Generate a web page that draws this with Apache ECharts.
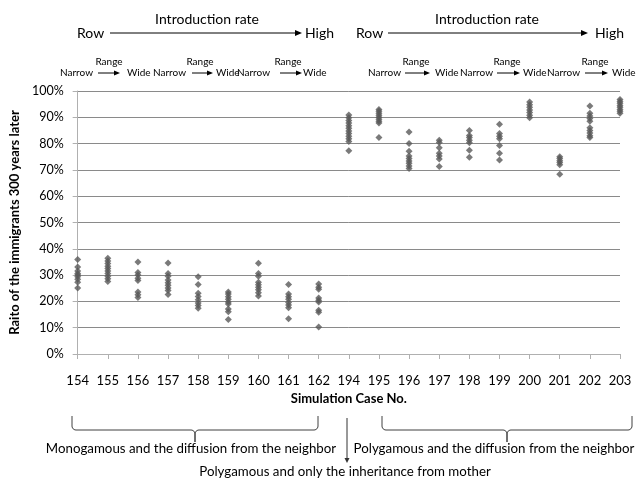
<!DOCTYPE html>
<html>
<head>
<meta charset="utf-8">
<script src="https://cdn.jsdelivr.net/npm/echarts@6/dist/echarts.min.js"></script>
<style>
  html, body { margin: 0; padding: 0; background: #fff; }
  #chart { width: 643px; height: 479px; }
</style>
</head>
<body>
<div id="chart"></div>
<script>
// Simulation case numbers along the x axis
const categories = ['154','155','156','157','158','159','160','161','162',
                    '194','195','196','197','198','199','200','201','202','203'];

// Ratio (%) of the immigrants after 300 years, one list of runs per case
// Monogamous, diffusion from the neighbor (cases 154-162)
const monoNeighborRatios = [
  [35.9, 33.1, 31.6, 30.6, 30.0, 29.4, 28.4, 27.3, 25.1],
  [36.4, 35.4, 34.4, 33.4, 32.5, 31.6, 30.6, 29.6, 28.6, 27.6],
  [35.0, 31.0, 30.0, 28.8, 27.9, 23.6, 22.5, 21.5],
  [34.6, 30.6, 29.6, 28.1, 27.1, 26.1, 25.1, 24.1, 22.6],
  [29.4, 26.4, 23.1, 21.9, 20.6, 19.4, 18.4, 17.4],
  [23.6, 22.8, 21.8, 20.8, 19.8, 19.0, 17.1, 16.1, 13.1],
  [34.5, 30.6, 29.6, 27.3, 26.3, 25.4, 24.4, 23.3, 22.1],
  [26.4, 22.8, 21.8, 20.8, 19.6, 18.6, 17.6, 13.4],
  [26.6, 25.4, 24.6, 21.3, 20.4, 19.8, 16.6, 15.9, 10.3]
];
// Polygamous, only the inheritance from mother (case 194)
const polyMotherRatios = [
  [90.9, 89.8, 88.8, 87.8, 86.8, 85.8, 84.8, 83.8, 82.8, 81.8, 80.8, 77.3]
];
// Polygamous, diffusion from the neighbor (cases 195-203)
const polyNeighborRatios = [
  [93.0, 92.3, 91.5, 90.8, 90.0, 89.3, 88.5, 87.8, 82.3],
  [84.4, 80.0, 77.1, 75.3, 74.3, 73.4, 72.5, 71.5, 70.5],
  [81.3, 80.4, 78.4, 76.3, 75.3, 74.1, 71.3],
  [85.0, 83.1, 82.3, 81.3, 80.3, 77.5, 74.8],
  [87.4, 83.8, 82.8, 81.8, 79.3, 76.3, 73.8],
  [95.8, 94.8, 93.8, 92.8, 91.8, 90.8, 89.8],
  [75.0, 74.3, 73.5, 72.8, 72.0, 68.3],
  [94.3, 91.5, 90.5, 89.5, 88.5, 86.0, 85.0, 84.0, 83.0, 82.3],
  [96.8, 96.0, 95.3, 94.5, 93.8, 93.0, 92.3, 91.5]
];

// Y axis ticks (percent)
const yMin = 0, yMax = 100, yStep = 10;

// Flatten to [categoryIndex, value] pairs
const allRuns = monoNeighborRatios.concat(polyMotherRatios, polyNeighborRatios);
const points = [];
allRuns.forEach((runs, i) => runs.forEach(v => points.push([i, v])));

const FONT = 'Lato, "Open Sans", sans-serif';
const INK = '#000';

// --- annotation helpers ---------------------------------------------------
function text(x, y, str, size, opts) {
  return {
    type: 'text', x: x, y: y, silent: true,
    style: { text: str, font: (opts && opts.bold ? 'bold ' : '') + size + 'px ' + FONT,
             fill: INK, align: (opts && opts.align) || 'center', verticalAlign: 'middle' }
  };
}
function hArrow(x1, x2, y, head, half) {
  return [
    { type: 'line', silent: true, shape: { x1: x1, y1: y, x2: x2 - head + 1, y2: y },
      style: { stroke: INK, lineWidth: 1 } },
    { type: 'polygon', silent: true,
      shape: { points: [[x2, y], [x2 - head, y - half], [x2 - head, y + half]] },
      style: { fill: INK } }
  ];
}
function vArrow(x, y1, y2, head, half) {
  return [
    { type: 'line', silent: true, shape: { x1: x, y1: y1, x2: x, y2: y2 - head + 1 },
      style: { stroke: '#333', lineWidth: 1 } },
    { type: 'polygon', silent: true,
      shape: { points: [[x, y2], [x - half, y2 - head], [x + half, y2 - head]] },
      style: { fill: '#333' } }
  ];
}
function arcPts(cx, cy, r, a0, a1) {
  const pts = [];
  for (let k = 0; k <= 6; k++) {
    const a = (a0 + (a1 - a0) * k / 6) * Math.PI / 180;
    pts.push([cx + r * Math.cos(a), cy + r * Math.sin(a)]);
  }
  return pts;
}
// Downward curly brace from x1 to x2
function brace(x1, x2, yTop, yLine, yTip, r) {
  const xm = (x1 + x2) / 2;
  let pts = [[x1, yTop]];
  pts = pts.concat(arcPts(x1 + r, yLine - r, r, 180, 90));
  pts = pts.concat(arcPts(xm - r, yLine + r, r, -90, 0));
  pts.push([xm, yTip]);
  pts = pts.concat(arcPts(xm + r, yLine + r, r, 180, 270));
  pts = pts.concat(arcPts(x2 - r, yLine - r, r, 90, 0));
  pts.push([x2, yTop]);
  return { type: 'polyline', silent: true, shape: { points: pts },
           style: { stroke: '#404040', lineWidth: 1, fill: null } };
}

// Top header: introduction rate and range arrows for each half
function header(rowX, arrowX1, arrowX2, highX, titleX, groups) {
  const els = [
    text(titleX, 19, 'Introduction rate', 14),
    text(rowX, 33, 'Row', 14, { align: 'left' }),
    text(highX, 33, 'High', 14, { align: 'left' })
  ].concat(hArrow(arrowX1, arrowX2, 33, 7, 3));
  groups.forEach(g => {
    els.push(text(g[0], 73, 'Narrow', 10, { align: 'left' }));
    els.push(text(g[1], 62, 'Range', 10));
    els.push(...hArrow(g[2], g[3], 73, 6, 2.5));
    els.push(text(g[4], 73, 'Wide', 10, { align: 'left' }));
  });
  return els;
}

const graphics = []
  .concat(header(77, 110, 302, 305, 207,
    [[60, 109, 98, 120, 127], [153, 200, 192, 213, 216], [237, 288, 280, 302, 303]]))
  .concat(header(356, 388, 588, 595, 487,
    [[368, 416, 405, 430, 435], [460, 507, 497, 520, 523], [547, 595, 585, 608, 612]]))
  .concat([
    brace(72, 318, 416, 430, 442, 4),
    brace(382, 632, 416, 430, 442, 4),
    text(191, 449, 'Monogamous and the diffusion from the neighbor', 13.3),
    text(494, 449, 'Polygamous and the diffusion from the neighbor', 13.3),
    text(345, 472, 'Polygamous and only the inheritance from mother', 13.3)
  ])
  .concat(vArrow(347, 418, 463, 5, 2.5));

const chart = echarts.init(document.getElementById('chart'), null, { renderer: 'canvas' });
chart.setOption({
  animation: false,
  backgroundColor: '#fff',
  textStyle: { fontFamily: FONT },
  grid: { left: 74, right: 23, top: 91, bottom: 125, containLabel: false },
  xAxis: {
    type: 'category',
    data: categories,
    boundaryGap: false,
    name: 'Simulation Case No.',
    nameLocation: 'middle',
    nameGap: 38,
    nameTextStyle: { fontFamily: FONT, fontWeight: 'bold', fontSize: 13, color: INK },
    axisLine: { lineStyle: { color: '#b0b0b0', width: 1 } },
    axisTick: { show: true, inside: false, length: 5, interval: 0,
                lineStyle: { color: '#b0b0b0' } },
    axisLabel: { interval: 0, margin: 20, fontSize: 13, color: INK, fontFamily: FONT },
    splitLine: { show: false }
  },
  yAxis: {
    type: 'value',
    min: yMin, max: yMax, interval: yStep,
    name: 'Raito of the immigrants 300 years later',
    nameLocation: 'middle',
    nameGap: 56,
    nameRotate: 90,
    nameTextStyle: { fontFamily: FONT, fontWeight: 'bold', fontSize: 13, color: INK },
    axisLine: { show: true, lineStyle: { color: '#b0b0b0', width: 1 } },
    axisTick: { show: true, inside: false, length: 5, lineStyle: { color: '#b0b0b0' } },
    axisLabel: { formatter: '{value}%', margin: 14, fontSize: 12.5, color: INK, fontFamily: FONT },
    splitLine: { show: true, lineStyle: { color: '#8a8a8a', width: 1 } }
  },
  series: [{
    type: 'scatter',
    data: points,
    symbol: 'diamond',
    symbolSize: 7,
    itemStyle: { color: '#595959' },
    emphasis: { disabled: true }
  }],
  graphic: { elements: graphics }
});
</script>
</body>
</html>
